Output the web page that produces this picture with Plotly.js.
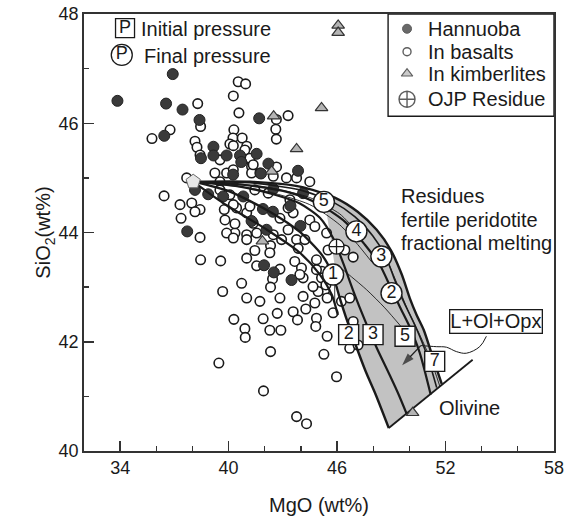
<!DOCTYPE html>
<html><head><meta charset="utf-8">
<script src="https://cdn.plot.ly/plotly-3.0.1.min.js"></script>
<style>html,body{margin:0;padding:0;background:#fff}#chart{width:566px;height:517px}</style>
</head><body><div id="chart"></div>
<script>
// ---------- data (MgO wt%, SiO2 wt%) ----------
const hannuobaMgO  = [33.85,36.91,36.54,37.45,38.39,36.44,41.69,39.16,39.16,38.47,39.89,40.63,40.70,41.55,42.20,43.84,40.25,41.79,42.47,38.14,38.87,40.81,41.90,42.45,43.42,43.97,37.71,41.27,42.10,44.12,41.96,42.50,43.48,39.70];
const hannuobaSiO2 = [46.41,46.90,46.36,46.25,46.06,45.77,46.09,45.57,45.41,45.36,45.41,45.41,45.29,45.44,45.26,45.13,45.06,45.08,44.80,44.78,44.70,44.66,44.43,44.38,44.49,44.12,44.02,44.21,44.05,44.72,43.40,43.27,43.13,44.66];

const basaltMgO  = [40.53,40.94,40.26,40.57,38.29,36.76,35.76,43.29,42.64,42.61,42.64,40.29,40.24,40.75,40.07,38.14,38.25,38.42,41.00,41.27,42.65,43.76,37.68,39.24,39.52,39.89,41.27,36.43,37.31,37.96,38.42,37.37,38.14,39.76,39.80,40.44,41.00,41.36,42.84,43.57,38.42,40.35,41.00,41.55,42.47,43.29,43.76,44.22,44.49,39.89,43.39,38.45,40.26,40.90,41.18,41.36,41.73,39.52,40.26,
  40.26,41.18,43.29,40.35,40.26,41.00,42.32,42.93,41.45,42.28,41.00,41.55,38.45,39.56,43.85,43.66,42.84,44.03,42.43,42.32,40.72,39.67,41.00,41.73,42.84,44.12,44.12,41.45,42.19,40.07,39.52,
  44.77,44.27,44.86,44.82,43.57,42.69,43.81,41.91,40.29,40.90,40.92,42.28,42.89,45.45,42.32,45.27,39.46,41.93,43.76,44.31,45.16,45.32,
  45.42,45.50,46.43,46.89,44.86,44.86,45.14,45.38,44.95,45.45,46.24,46.70,45.78,46.70,45.97,46.89,47.16,44.49,44.77,44.67,43.20,42.47,43.94];
const basaltSiO2 = [46.76,46.72,46.50,46.19,46.36,45.88,45.72,46.14,46.07,45.89,45.71,45.88,45.73,45.73,45.62,45.67,45.56,45.42,45.58,45.21,45.20,45.00,45.00,45.09,44.93,45.09,45.09,44.67,44.51,44.54,44.42,44.26,44.38,44.42,44.23,44.45,44.36,44.17,44.26,44.36,43.91,43.99,43.96,43.99,43.96,44.05,43.87,43.87,44.93,43.99,44.60,45.94,45.59,45.51,45.36,45.24,45.09,45.33,45.15,
  44.51,44.48,44.45,44.16,43.90,43.87,43.76,43.87,43.67,43.63,43.53,43.39,43.50,43.48,43.71,43.47,43.33,43.35,43.15,43.00,43.07,42.92,42.80,42.74,42.80,43.17,42.83,44.78,44.72,44.69,44.78,
  42.71,42.60,42.43,42.28,42.55,42.52,42.40,42.42,42.41,42.24,42.08,42.21,42.21,42.10,41.82,41.77,41.61,41.10,40.63,40.50,43.29,42.95,
  43.99,43.68,43.68,43.55,43.50,43.32,43.17,43.04,42.92,42.80,42.74,42.80,42.53,41.88,41.36,42.37,41.94,44.23,44.11,43.01,45.00,45.03,43.23];

const kimberliteMgO  = [42.49,43.76,45.14,42.38,41.87,46.06,46.06,50.18];
const kimberliteSiO2 = [46.13,45.53,46.28,45.12,43.84,47.79,47.66,40.70];

const ojpMgO = [45.97], ojpSiO2 = [43.74];
const fertileMgO = [38.04], fertileSiO2 = [44.93];

// fractional-melting residue paths (initial pressure 2,3,5,7 GPa) and boundaries
const p2MgO  = [38.04,40.07,42.28,43.94,45.16,45.76,46.15,46.54,47.03,47.59,48.14,48.86];
const p2SiO2 = [44.93,44.75,44.38,44.01,43.59,43.23,42.80,42.40,41.94,41.45,41.03,40.42];
const l1MgO  = [38.04,39.69,42.12,43.94,45.05,45.71,46.04];
const l1SiO2 = [44.93,44.54,44.05,43.63,43.23,42.86,42.49];
const p3MgO  = [38.04,40.63,42.56,43.94,45.05,45.82,46.37,46.92,47.53,48.19,48.91,49.41,49.85];
const p3SiO2 = [44.93,44.84,44.69,44.53,44.27,43.87,43.41,42.91,42.40,41.89,41.39,41.03,40.68];
const p5MgO  = [38.04,40.90,43.39,45.05,46.43,47.53,48.36,48.97,49.47,50.02,50.57,51.18];
const p5SiO2 = [44.93,44.87,44.73,44.51,44.20,43.78,43.41,42.99,42.64,42.27,41.80,41.03];
const p7MgO  = [38.04,41.18,43.94,45.76,46.98,47.97,48.69,49.19,49.63,50.35,51.01,51.51];
const p7SiO2 = [44.93,44.91,44.78,44.56,44.29,43.94,43.56,43.13,42.77,42.27,41.72,41.16];
const outerMgO  = [38.04,41.18,43.94,45.87,47.14,48.19,48.97,49.58,50.02,50.40,50.79,51.29,51.79];
const outerSiO2 = [44.93,44.93,44.84,44.64,44.38,44.05,43.68,43.23,42.80,42.49,42.22,41.72,41.23];
const thinAMgO = [46.32,47.64,48.64,49.69], thinASiO2 = [43.32,42.95,42.62,42.22];
const thinBMgO = [45.87,45.87], thinBSiO2 = [43.04,42.71];
const thinCMgO = [48.69,49.35,49.91,50.57,51.18,51.68], thinCSiO2 = [43.56,43.04,42.58,42.13,41.67,41.19];
const thinDMgO = [38.04,41.73,44.49,46.15,46.70], thinDSiO2 = [44.93,44.85,44.64,44.34,44.16];
const thinEMgO = [38.04,41.73,44.49,46.15,47.14,47.92], thinESiO2 = [44.93,44.78,44.51,44.14,43.78,43.46];
const olivineMgO = [48.86,53.50], olivineSiO2 = [40.42,41.67];
const bandMgO  = [45.60,45.87,47.14,48.19,48.97,49.58,50.02,50.40,50.79,51.29,51.79,48.86,48.14,47.59,47.03,46.54,46.15,45.98,45.82,45.65,45.49,45.38,45.60];
const bandSiO2 = [44.60,44.64,44.38,44.05,43.68,43.23,42.80,42.49,42.22,41.72,41.23,40.42,41.03,41.45,41.94,42.40,42.80,43.13,43.50,43.87,44.20,44.45,44.60];
// L+Ol+Opx leader (wavy) and its arrow
const leaderMgO = [54.26,53.89,53.15,52.60,52.05,51.49,50.63], leaderSiO2 = [42.10,41.91,41.79,41.82,41.90,41.91,41.93];
const arrowMgO = [50.63,49.60], arrowSiO2 = [41.93,41.57];

// labels
const finalPLabels = ['5','4','3','2','1'];
const finalPMgO  = [45.27,47.07,48.45,49.01,45.78];
const finalPSiO2 = [44.56,44.02,43.56,42.89,43.23];
const initPLabels = ['2','3','5','7'];
const initPMgO  = [46.64,47.99,49.76,51.40];
const initPSiO2 = [42.13,42.13,42.10,41.64];

// key (legend box, top right)
const keyLabels = ['Hannuoba','In basalts','In kimberlites','OJP Residue'];
const keySymMgO = 49.87, keyTextMgO = 50.94;
const keySiO2 = [47.73,47.31,46.91,46.44];

const FONT = 'Liberation Sans, Arial, Helvetica, sans-serif';
const INK = '#1a1a1a';

function line(x, y, w, extra) {
  return Object.assign({x, y, type:'scatter', mode:'lines', showlegend:false, hoverinfo:'skip',
    line:{color:INK, width:w, shape:'spline', smoothing:0.7}}, extra||{});
}

const traces = [
  {x:bandMgO, y:bandSiO2, type:'scatter', mode:'lines', fill:'toself', fillcolor:'#c2c2c2',
   line:{width:0, color:'#c2c2c2'}, showlegend:false, hoverinfo:'skip'},
  {x:basaltMgO, y:basaltSiO2, type:'scatter', mode:'markers', name:'In basalts', showlegend:false,
   marker:{symbol:'circle', size:9.5, color:'#ffffff', line:{color:INK, width:1.6}}},
  {x:hannuobaMgO, y:hannuobaSiO2, type:'scatter', mode:'markers', name:'Hannuoba', showlegend:false,
   marker:{symbol:'circle', size:11, color:'#3a3a3a', line:{color:'#222', width:1}}},
  line(thinDMgO, thinDSiO2, 0.9), line(thinEMgO, thinESiO2, 0.9),
  line(thinAMgO, thinASiO2, 0.9), line(thinBMgO, thinBSiO2, 0.9), line(thinCMgO, thinCSiO2, 0.9),
  line(l1MgO, l1SiO2, 2.2), line(p2MgO, p2SiO2, 2.4), line(p3MgO, p3SiO2, 2.2),
  line(p5MgO, p5SiO2, 2.2), line(p7MgO, p7SiO2, 1.6), line(outerMgO, outerSiO2, 2.4),
  line(olivineMgO, olivineSiO2, 1.8, {line:{color:INK, width:1.8}}),
  line(leaderMgO, leaderSiO2, 1, {line:{color:INK, width:1, shape:'spline', smoothing:1}}),
  {x:arrowMgO, y:arrowSiO2, type:'scatter', mode:'lines+markers', showlegend:false, hoverinfo:'skip',
   line:{color:INK, width:1.2},
   marker:{symbol:'arrow', angleref:'previous', size:[0,13], color:INK, line:{width:0}}},
  {x:kimberliteMgO, y:kimberliteSiO2, type:'scatter', mode:'markers', name:'In kimberlites', showlegend:false,
   marker:{symbol:'triangle-up', size:11, color:'#b4b4b4', line:{color:'#333', width:1.2}}},
  {x:fertileMgO, y:fertileSiO2, type:'scatter', mode:'markers', showlegend:false, hoverinfo:'skip',
   marker:{symbol:'pentagon', size:15, color:'#e6e6e6', line:{color:'#666', width:1}}},
  {x:ojpMgO, y:ojpSiO2, type:'scatter', mode:'markers', name:'OJP Residue', showlegend:false,
   marker:{symbol:'circle-cross', size:15, color:'#ffffff', line:{color:INK, width:1.3}}},
  {x:finalPMgO, y:finalPSiO2, text:finalPLabels, type:'scatter', mode:'markers+text', showlegend:false, hoverinfo:'skip',
   marker:{symbol:'circle', size:21, color:'#ffffff', line:{color:INK, width:1.4}},
   textposition:'middle center', textfont:{family:FONT, size:18, color:INK}},
  {x:initPMgO, y:initPSiO2, text:initPLabels, type:'scatter', mode:'markers+text', showlegend:false, hoverinfo:'skip',
   marker:{symbol:'square', size:20, color:'#ffffff', line:{color:INK, width:1.4}},
   textposition:'middle center', textfont:{family:FONT, size:18, color:INK}},
  {x:[34.27], y:[47.74], text:['P'], type:'scatter', mode:'markers+text', showlegend:false, hoverinfo:'skip',
   marker:{symbol:'square', size:19, color:'#ffffff', line:{color:INK, width:1.3}},
   textposition:'middle center', textfont:{family:FONT, size:18, color:INK}},
  {x:[34.09], y:[47.25], text:['P'], type:'scatter', mode:'markers+text', showlegend:false, hoverinfo:'skip',
   marker:{symbol:'circle', size:21, color:'#ffffff', line:{color:INK, width:1.3}},
   textposition:'middle center', textfont:{family:FONT, size:18, color:INK}},
  // key symbols
  {x:keySiO2.map(() => keySymMgO), y:keySiO2, type:'scatter', mode:'markers', showlegend:false, hoverinfo:'skip',
   marker:{symbol:['circle','circle','triangle-up','circle-cross'], size:[9,8,10,16],
     color:['#2a2a2a','#ffffff','#b4b4b4','#ffffff'], line:{color:INK, width:[1,1.4,1.1,1.4]}}}
];

const txt = (x, y, s, extra) => Object.assign({x, y, xref:'x', yref:'y', text:s, showarrow:false,
  xanchor:'left', yanchor:'middle', font:{family:FONT, size:20, color:INK}}, extra||{});

const annotations = [
  txt(35.05, 47.73, 'Initial pressure'),
  txt(35.19, 47.24, 'Final pressure'),
  txt(49.41, 44.67, 'Residues'),
  txt(49.41, 44.23, 'fertile peridotite'),
  txt(49.41, 43.81, 'fractional melting'),
  txt(51.51, 40.79, 'Olivine'),
  txt(54.81, 42.37, 'L+Ol+Opx', {xanchor:'center', bordercolor:INK, borderwidth:1.3, borderpad:0, bgcolor:'#ffffff'})
].concat(keyLabels.map((s, i) => txt(keyTextMgO, keySiO2[i], s)));

const layout = {
  width:566, height:517,
  margin:{l:84, r:12, t:14, b:66},
  paper_bgcolor:'#ffffff', plot_bgcolor:'#ffffff',
  font:{family:FONT, color:INK},
  showlegend:false,
  xaxis:{range:[32,58], tick0:34, dtick:6, ticks:'inside', ticklen:10, tickwidth:1.5, tickcolor:'#333',
    showline:true, linewidth:1.8, linecolor:'#333', mirror:true, showgrid:false, zeroline:false,
    tickfont:{family:FONT, size:18, color:INK},
    minor:{tick0:32, dtick:2, ticks:'inside', ticklen:5, tickwidth:1.3, tickcolor:'#333', showgrid:false},
    title:{text:'MgO (wt%)', font:{family:FONT, size:20, color:INK}, standoff:20}},
  yaxis:{range:[40,48], tick0:40, dtick:2, ticks:'inside', ticklen:10, tickwidth:1.5, tickcolor:'#333',
    showline:true, linewidth:1.8, linecolor:'#333', mirror:true, showgrid:false, zeroline:false,
    tickfont:{family:FONT, size:18, color:INK},
    minor:{dtick:1, ticks:'inside', ticklen:5, tickwidth:1.3, tickcolor:'#333', showgrid:false},
    title:{text:'SiO<sub>2</sub>(wt%)', font:{family:FONT, size:20, color:INK}, standoff:2}},
  shapes:[{type:'rect', xref:'paper', yref:'paper', x0:0.647, x1:1, y0:0.766, y1:1,
    line:{color:INK, width:1.4}, fillcolor:'#ffffff', layer:'below'}],
  annotations
};

Plotly.newPlot('chart', traces, layout, {displayModeBar:false, staticPlot:true});
</script></body></html>
